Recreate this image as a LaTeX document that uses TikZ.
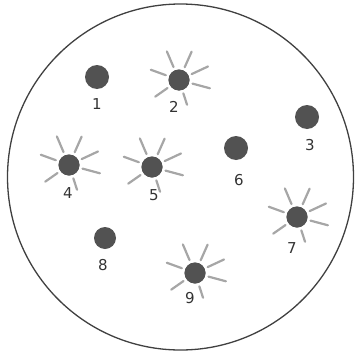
\documentclass[tikz,border=0pt]{standalone}
\usepackage{fontspec}
\setmainfont{DejaVu Sans}
\usetikzlibrary{calc}
\begin{document}
\begin{tikzpicture}[x=1pt,y=-1pt,
  dot/.style={circle,fill=black!68,inner sep=0pt,minimum size=#1},
  ray/.style={draw=black!35,line width=2.2pt,line cap=round},
  lab/.style={text=black!80,font=\fontsize{15}{15}\selectfont,inner sep=0pt},
  rim/.style={draw=black!75,line width=1.3pt}]
\useasboundingbox (0,0) rectangle (355,353);
\draw[rim] (180.5,177) circle (173);
% plain dots
\node[dot=24pt] (d1) at (97,77) {};
\node[dot=24pt] (d3) at (307,117) {};
\node[dot=24pt] (d6) at (236,148) {};
\node[dot=22pt] (d8) at (105,238) {};
% star dots
\node[dot=21pt] (d2) at (179,80) {};
\node[dot=21pt] (d4) at (69,165) {};
\node[dot=21pt] (d5) at (152,167) {};
\node[dot=21pt] (d7) at (297,217) {};
\node[dot=21pt] (d9) at (195,273) {};
\foreach \c in {d2,d4,d5,d7,d9}{
  \foreach \a/\l in {113/31,66/31,25/32,-15/32,-72/26,-145/29,160/30}{
    \draw[ray] ($(\c)+({14*cos(\a)},{-14*sin(\a)})$) -- ($(\c)+({\l*cos(\a)},{-\l*sin(\a)})$);
  }
}
\foreach \c in {d2,d4,d5,d7,d9}{\node[dot=21pt] at (\c) {};}
% labels
\node[lab] (l1) at (97,104) {1};
\node[lab] (l2) at (174,107) {2};
\node[lab] (l3) at (310,145) {3};
\node[lab] (l4) at (68,193) {4};
\node[lab] (l5) at (154,195) {5};
\node[lab] (l6) at (239,180) {6};
\node[lab] (l7) at (292,248) {7};
\node[lab] (l8) at (103,265) {8};
\node[lab] (l9) at (190,298) {9};
\end{tikzpicture}
\end{document}
